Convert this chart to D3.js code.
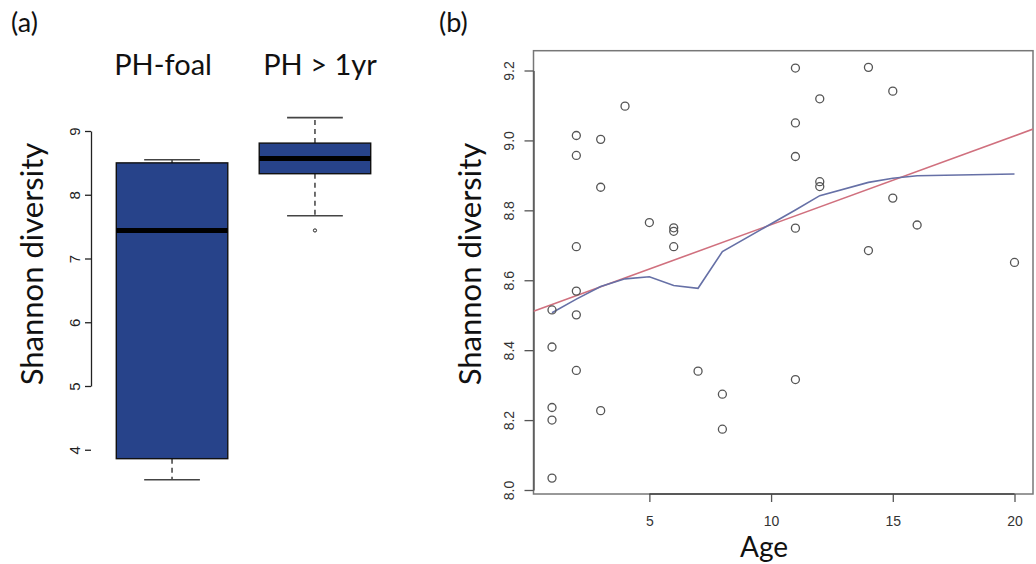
<!DOCTYPE html>
<html><head><meta charset="utf-8">
<script src="https://cdn.jsdelivr.net/npm/d3@7/dist/d3.min.js"></script>
<style>body{margin:0;background:#fff}svg{display:block}</style>
</head><body>
<svg id="c" width="1036" height="564"></svg>
<script>
// ---- Panel (a) data ----
const groups = ["PH-foal", "PH > 1yr"];
const boxLow = [3.53, 7.67];      // lower whisker
const boxQ1 = [3.86, 8.33];
const boxMedian = [7.44, 8.57];
const boxQ3 = [8.50, 8.81];
const boxHigh = [8.55, 9.21];     // upper whisker
const boxOutliers = [[], [7.44]];
const aTicks = [4, 5, 6, 7, 8, 9];

// ---- Panel (b) data ----
const ages = [1,1,1,1,1, 2,2,2,2,2,2, 3,3,3, 4, 5, 6,6,6, 7, 8,8, 11,11,11,11,11, 12,12,12, 14,14, 15,15, 16, 20];
const shannon = [8.515,8.409,8.236,8.200,8.034, 9.014,8.957,8.696,8.569,8.501,8.342, 9.003,8.866,8.227, 9.098, 8.765, 8.750,8.740,8.696, 8.340, 8.274,8.174, 9.207,9.050,8.954,8.749,8.316, 9.119,8.882,8.868, 9.209,8.685, 9.141,8.835, 8.758, 8.651];
const fitCoef = [8.505, 0.0254]; // intercept, slope (linear fit)
const lowessAge = [1,2,3,4,5,6,7,8,11,12,14,15,16,20];
const lowessVal = [8.507,8.546,8.582,8.604,8.610,8.585,8.577,8.682,8.801,8.842,8.880,8.892,8.899,8.904];
const bXTicks = [5, 10, 15, 20];
const bYTicks = [8.0, 8.2, 8.4, 8.6, 8.8, 9.0, 9.2];

const svg = d3.select("#c");
const labelFont = "Lato, 'Open Sans', sans-serif";
const tickFont = "'Liberation Sans', Arial, sans-serif";

// ===== Panel (a) =====
const ya = d3.scaleLinear().domain([5, 9]).range([386, 131]);
const xa = d3.scaleBand().domain(groups).range([102, 385]).paddingInner(0.22).paddingOuter(0.1);
const ga = svg.append("g");

const axA = ga.append("g").attr("transform", "translate(91,0)")
  .call(d3.axisLeft(ya).tickValues(aTicks).tickSize(6).tickSizeOuter(0).tickFormat(d3.format("d")));
axA.select(".domain").attr("stroke", "#222").attr("stroke-width", 1.3);
axA.selectAll(".tick line").attr("stroke", "#222").attr("stroke-width", 1.3);
axA.selectAll(".tick text").attr("font-family", tickFont).attr("font-size", 15).attr("fill", "#222")
  .attr("x", 0).attr("dy", 0).attr("text-anchor", "middle")
  .attr("transform", "translate(-11,0) rotate(-90)");

const labelShift = [-9, 5];
groups.forEach((g, i) => {
  const x0 = xa(g), w = xa.bandwidth(), cx = x0 + w / 2;
  const capW = w * 0.5;
  ga.append("line").attr("x1", cx).attr("x2", cx).attr("y1", ya(boxQ3[i])).attr("y2", ya(boxHigh[i]))
    .attr("stroke", "#333").attr("stroke-width", 1.4).attr("stroke-dasharray", "5,4");
  ga.append("line").attr("x1", cx).attr("x2", cx).attr("y1", ya(boxQ1[i])).attr("y2", ya(boxLow[i]))
    .attr("stroke", "#333").attr("stroke-width", 1.4).attr("stroke-dasharray", "5,4");
  [boxHigh[i], boxLow[i]].forEach(v => {
    ga.append("line").attr("x1", cx - capW / 2).attr("x2", cx + capW / 2).attr("y1", ya(v)).attr("y2", ya(v))
      .attr("stroke", "#444").attr("stroke-width", 1.6);
  });
  ga.append("rect").attr("x", x0).attr("width", w).attr("y", ya(boxQ3[i])).attr("height", ya(boxQ1[i]) - ya(boxQ3[i]))
    .attr("fill", "#27438A").attr("stroke", "#111").attr("stroke-width", 1.4);
  ga.append("line").attr("x1", x0).attr("x2", x0 + w).attr("y1", ya(boxMedian[i])).attr("y2", ya(boxMedian[i]))
    .attr("stroke", "#000").attr("stroke-width", 5);
  boxOutliers[i].forEach(v => {
    ga.append("circle").attr("cx", cx).attr("cy", ya(v)).attr("r", 1.6)
      .attr("fill", "none").attr("stroke", "#222").attr("stroke-width", 1);
  });
  ga.append("text").attr("x", cx + labelShift[i]).attr("y", 75).attr("text-anchor", "middle")
    .attr("font-family", labelFont).attr("font-size", 29).attr("fill", "#111").text(g);
});

ga.append("text").attr("transform", "translate(43,264) rotate(-90)").attr("text-anchor", "middle")
  .attr("font-family", labelFont).attr("font-size", 31).attr("fill", "#111").text("Shannon diversity");
ga.append("text").attr("x", 11).attr("y", 32).attr("font-family", labelFont).attr("font-size", 27)
  .attr("fill", "#111").text("(a)");

// ===== Panel (b) =====
const xb = d3.scaleLinear().domain([0.24, 20.76]).range([533.5, 1033]);
const yb = d3.scaleLinear().domain([8.0, 9.2]).range([490, 70.5]);
const yTop = yb.invert(50.7), yBot = yb.invert(494);
const gb = svg.append("g");

gb.append("rect").attr("x", xb.range()[0]).attr("y", yb(yTop)).attr("width", xb.range()[1] - xb.range()[0])
  .attr("height", yb(yBot) - yb(yTop)).attr("fill", "none").attr("stroke", "#777").attr("stroke-width", 1.5);

const axBX = gb.append("g").attr("transform", `translate(0,${yb(yBot)})`)
  .call(d3.axisBottom(xb).tickValues(bXTicks).tickSize(8).tickSizeOuter(0).tickFormat(d3.format("d")));
axBX.select(".domain").remove();
gb.append("line").attr("x1", xb(5)).attr("x2", xb(20)).attr("y1", yb(yBot)).attr("y2", yb(yBot))
  .attr("stroke", "#444").attr("stroke-width", 1.6);
axBX.selectAll(".tick line").attr("stroke", "#555").attr("stroke-width", 1.3);
axBX.selectAll(".tick text").attr("font-family", tickFont).attr("font-size", 14).attr("fill", "#333")
  .attr("y", 0).attr("dy", 0).attr("transform", "translate(0,32)");

const axBY = gb.append("g").attr("transform", `translate(${xb.range()[0]},0)`)
  .call(d3.axisLeft(yb).tickValues(bYTicks).tickSize(9).tickSizeOuter(0).tickFormat(d3.format(".1f")));
axBY.select(".domain").attr("stroke", "#555").attr("stroke-width", 1.4);
axBY.selectAll(".tick line").attr("stroke", "#555").attr("stroke-width", 1.3);
axBY.selectAll(".tick text").attr("font-family", tickFont).attr("font-size", 14).attr("fill", "#333")
  .attr("x", 0).attr("dy", 0).attr("text-anchor", "middle")
  .attr("transform", "translate(-20,0) rotate(-90)");

const clipId = "clipb";
gb.append("clipPath").attr("id", clipId).append("rect")
  .attr("x", xb.range()[0]).attr("y", yb(yTop)).attr("width", xb.range()[1] - xb.range()[0]).attr("height", yb(yBot) - yb(yTop));
const xd = xb.domain();
gb.append("line").attr("clip-path", `url(#${clipId})`)
  .attr("x1", xb(xd[0])).attr("y1", yb(fitCoef[0] + fitCoef[1] * xd[0]))
  .attr("x2", xb(xd[1])).attr("y2", yb(fitCoef[0] + fitCoef[1] * xd[1]))
  .attr("stroke", "#D0707E").attr("stroke-width", 1.6);

gb.append("path").datum(lowessAge.map((a, i) => [a, lowessVal[i]]))
  .attr("d", d3.line().x(d => xb(d[0])).y(d => yb(d[1])))
  .attr("fill", "none").attr("stroke", "#6670A6").attr("stroke-width", 1.6);

gb.selectAll("circle.pt").data(ages.map((a, i) => [a, shannon[i]])).enter().append("circle")
  .attr("class", "pt").attr("cx", d => xb(d[0])).attr("cy", d => yb(d[1])).attr("r", 4)
  .attr("fill", "none").attr("stroke", "#555").attr("stroke-width", 1.3);

gb.append("text").attr("transform", "translate(481,264) rotate(-90)").attr("text-anchor", "middle")
  .attr("font-family", labelFont).attr("font-size", 31).attr("fill", "#111").text("Shannon diversity");
gb.append("text").attr("x", 764).attr("y", 557).attr("text-anchor", "middle")
  .attr("font-family", labelFont).attr("font-size", 28).attr("fill", "#111").text("Age");
gb.append("text").attr("x", 439).attr("y", 32).attr("font-family", labelFont).attr("font-size", 27)
  .attr("fill", "#111").text("(b)");
</script>
</body></html>
